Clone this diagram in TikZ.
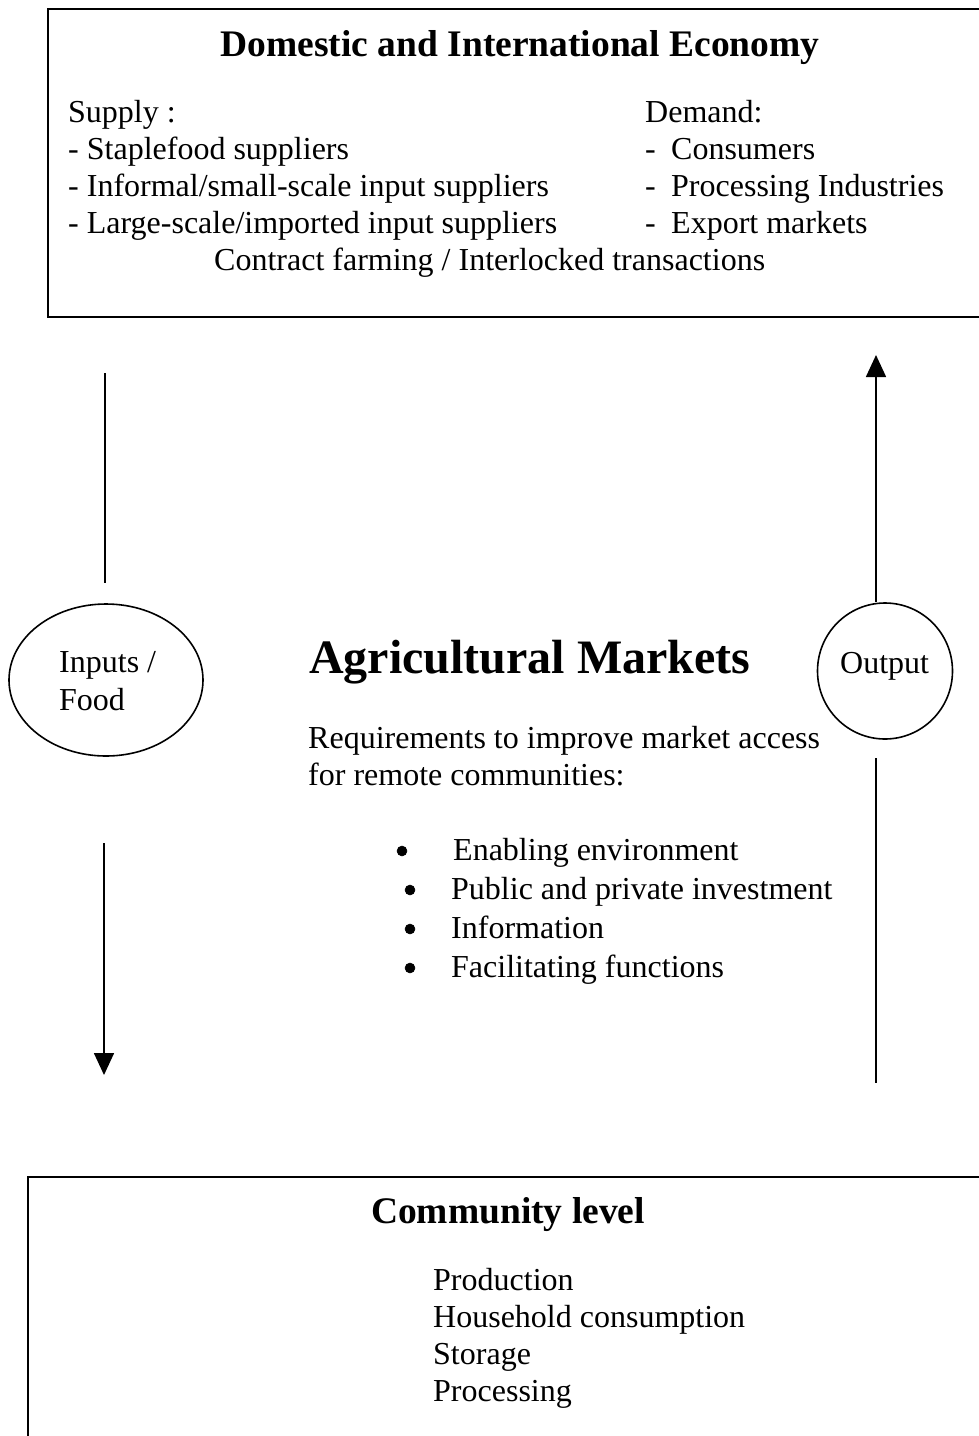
\documentclass[tikz,border=0pt]{standalone}
\usepackage{fontspec}
\setmainfont{Liberation Serif}
\usetikzlibrary{arrows.meta,shapes.geometric}
\tikzset{
  body/.style={anchor=base west,inner sep=0pt,font=\fontsize{32}{37}\selectfont},
  head/.style={anchor=base,inner sep=0pt,font=\fontsize{37.5}{43}\selectfont\bfseries},
  frame/.style={draw,line width=1.6pt},
  oval/.style={draw,ellipse,line width=1.6pt,inner sep=0pt},
  conn/.style={line width=1.6pt},
  arr/.style={conn,-{Triangle[width=20pt,length=22pt]}},
  dot/.style={circle,draw=black,fill=black,line width=0.5pt,inner sep=0pt,minimum size=10pt}
}
\begin{document}
\begin{tikzpicture}[x=1pt,y=-1pt]
\useasboundingbox (0,0) rectangle (979,1436);
\clip (0,0) rectangle (979,1436);
% boxes
\draw[frame] (48,9) rectangle (1000,317);
\draw[frame] (28,1177) rectangle (1000,1460);
% top box text
\node[head] (title) at (520,56) {Domestic and International Economy};
\node[body] (sup) at (68,122) {Supply :};
\node[body] (s1) at (68,159) {- Staplefood suppliers};
\node[body] (s2) at (68,196) {- Informal/small-scale input suppliers};
\node[body] (s3) at (68,233) {- Large-scale/imported input suppliers};
\node[body] (dem) at (645,122) {Demand:};
\node[body] (d1m) at (645,159) {-};
\node[body] (d1) at (671,159) {Consumers};
\node[body] (d2m) at (645,196) {-};
\node[body] (d2) at (671,196) {Processing Industries};
\node[body] (d3m) at (645,233) {-};
\node[body] (d3) at (671,233) {Export markets};
\node[body] (cf) at (214,270) {Contract farming / Interlocked transactions};
% middle
\node[oval,minimum width=194pt,minimum height=152pt] (inp) at (106,680) {};
\node[body] (inpA) at (59,672) {Inputs /};
\node[body] (inpB) at (59,710) {Food};
\node[oval,minimum width=135pt,minimum height=136pt] (out) at (885,671) {};
\node[body] (outT) at (840,673) {Output};
\node[anchor=base west,inner sep=0pt,font=\fontsize{48}{55}\selectfont\bfseries] (agm) at (309,673) {Agricultural Markets};
\node[body] (req1) at (308,748) {Requirements to improve market access};
\node[body] (req2) at (308,785) {for remote communities:};
\node[dot] (b1) at (402,851) {};
\node[dot] (b2) at (410,890) {};
\node[dot] (b3) at (410,929) {};
\node[dot] (b4) at (410,968) {};
\node[body] (r1) at (453,860) {Enabling environment};
\node[body] (r2) at (451,899) {Public and private investment};
\node[body] (r3) at (451,938) {Information};
\node[body] (r4) at (451,977) {Facilitating functions};
% bottom
\node[head] (comm) at (508,1223) {Community level};
\node[body] (c1) at (433,1290) {Production};
\node[body] (c2) at (433,1327) {Household consumption};
\node[body] (c3) at (433,1364) {Storage};
\node[body] (c4) at (433,1401) {Processing};
% connectors
\coordinate (la) at (105,373);
\coordinate (lb) at (105,583);
\coordinate (lc) at (104,843);
\coordinate (ld) at (104,1075);
\coordinate (ra) at (876,355);
\coordinate (rc) at (876,758);
\coordinate (rd) at (876,1083);
\draw[conn] (la) -- (lb);
\draw[arr] (lc) -- (ld);
\draw[arr] (out.north -| ra) -- (ra);
\draw[conn] (rc) -- (rd);
\end{tikzpicture}
\end{document}
